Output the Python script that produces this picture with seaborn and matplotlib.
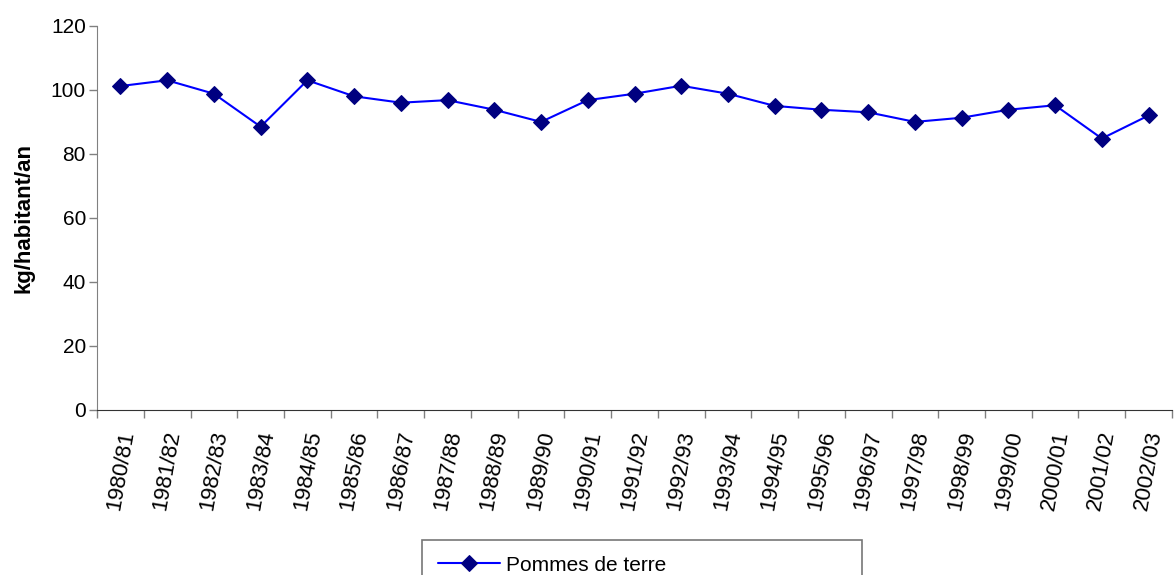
import pandas as pd
import matplotlib.pyplot as plt
import seaborn as sns
from matplotlib.ticker import FixedLocator

# consommation de pommes de terre, kg/habitant/an
saisons = ['1980/81', '1981/82', '1982/83', '1983/84', '1984/85', '1985/86',
           '1986/87', '1987/88', '1988/89', '1989/90', '1990/91', '1991/92',
           '1992/93', '1993/94', '1994/95', '1995/96', '1996/97', '1997/98',
           '1998/99', '1999/00', '2000/01', '2001/02', '2002/03']
kg_hab = [101.2, 103.0, 98.8, 88.5, 103.0, 98.0, 96.0, 96.8, 93.8, 90.0,
          96.8, 98.8, 101.3, 98.8, 95.0, 93.8, 93.0, 90.0, 91.3, 93.8,
          95.2, 84.8, 92.0]
serie = 'Pommes de terre'
ymax = 120

df = pd.DataFrame({'saison': saisons, 'kg': kg_hab})

sns.set_style('white', rc={'text.color': 'black', 'axes.labelcolor': 'black',
                           'xtick.color': 'black', 'ytick.color': 'black'})
plt.rcParams['font.family'] = ['Liberation Sans', 'DejaVu Sans']

fig = plt.figure(figsize=(11.75, 5.75), dpi=100)
ax = fig.add_axes([0.0826, 0.287, 0.9148, 0.668])

sns.lineplot(data=df, x='saison', y='kg', ax=ax, sort=False,
             color='#0000FF', linewidth=1.5, marker='D', markersize=8.5,
             markerfacecolor='#000080', markeredgecolor='#000080',
             label=serie)

ax.set_xlim(-0.5, len(saisons) - 0.5)
ax.set_ylim(0, ymax)
ax.set_yticks(range(0, ymax + 1, 20))
ax.tick_params(axis='y', labelsize=15, length=6, width=1, color='#808080',
               labelcolor='black', left=True, direction='out', pad=2)
ax.set_xticks(range(len(saisons)))
ax.set_xticklabels(saisons, rotation=80, ha='center', va='top', fontsize=16)
ax.tick_params(axis='x', which='major', length=0, pad=14, labelcolor='black')
ax.xaxis.set_minor_locator(FixedLocator([i - 0.5 for i in range(len(saisons) + 1)]))
ax.tick_params(axis='x', which='minor', length=6, width=1, color='#808080',
               bottom=True, direction='out')

ax.set_xlabel('')
ax.set_ylabel('kg/habitant/an', fontsize=16, fontweight='bold', labelpad=12,
              color='black')

sns.despine(ax=ax)
ax.spines['left'].set_color('#808080')
ax.spines['bottom'].set_color('#333333')
ax.grid(False)

handles, labels = ax.get_legend_handles_labels()
ax.get_legend().remove()
leg = fig.legend(handles, labels, loc='upper left',
                 bbox_to_anchor=(422 / 1175, 1 - 540 / 575, 440 / 1175, 0),
                 mode='expand', fontsize=15, frameon=True, fancybox=False,
                 handlelength=3.0, borderpad=0.75, handletextpad=0.3,
                 borderaxespad=0)
leg.get_frame().set_edgecolor('#555555')
leg.get_frame().set_linewidth(1.2)
for t in leg.get_texts():
    t.set_color('black')

fig.savefig('out.png', dpi=100)
